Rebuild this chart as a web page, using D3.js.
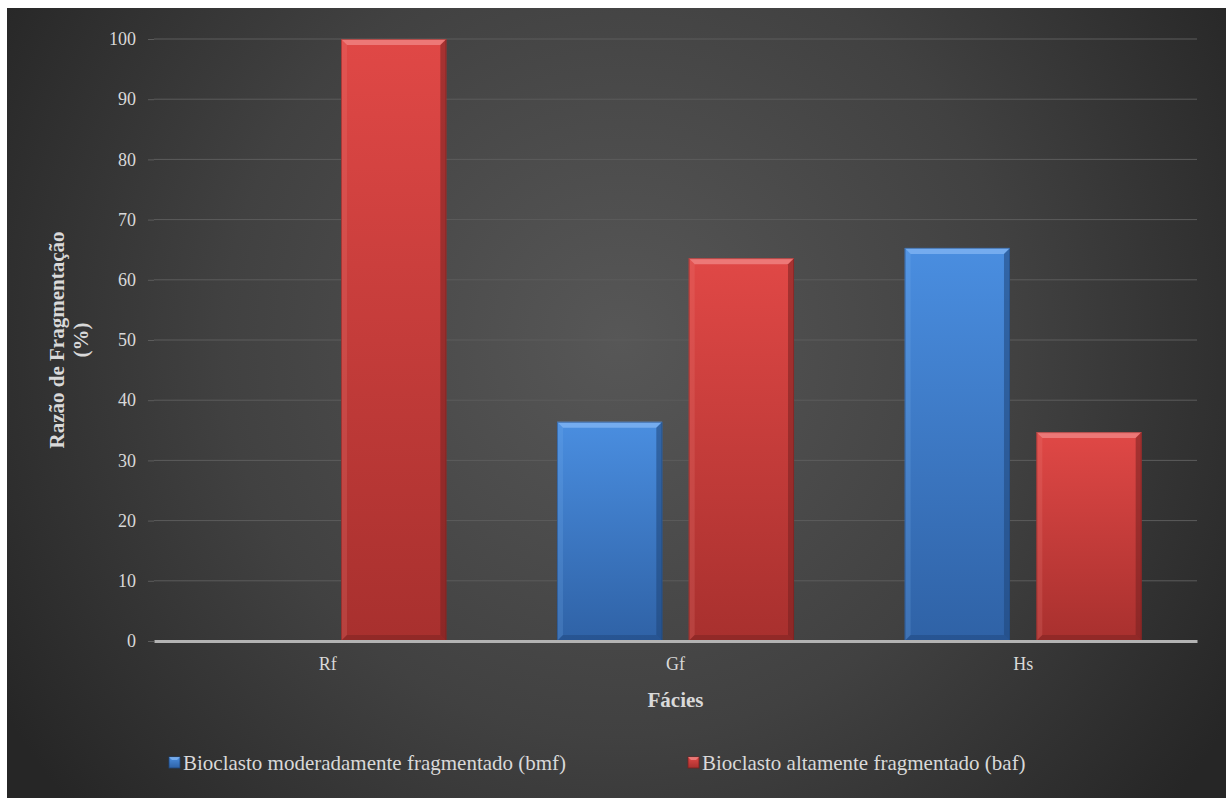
<!DOCTYPE html>
<html>
<head>
<meta charset="utf-8">
<script src="https://cdn.jsdelivr.net/npm/d3@7"></script>
<style>
  html, body { margin: 0; padding: 0; background: #ffffff; }
  svg { display: block; }
</style>
</head>
<body>
<svg id="chart" width="1227" height="798"></svg>
<script>
// Fragmentation ratio per facies
const categories = ["Rf", "Gf", "Hs"];
const seriesNames = [
  "Bioclasto moderadamente fragmentado (bmf)",
  "Bioclasto altamente fragmentado (baf)"
];
const bmfValues = [0, 36.4, 65.3];
const bafValues = [100, 63.6, 34.7];
const yTicks = [0, 10, 20, 30, 40, 50, 60, 70, 80, 90, 100];

const palettes = [
  { top: "#4a8ee0", bottom: "#2f62a6", light: "#7fb4f2", dark: "#1f4579" },
  { top: "#e04846", bottom: "#a8302e", light: "#f08583", dark: "#762120" }
];

const svg = d3.select("#chart");
const W = 1227, H = 798;
const margin = { left: 154, right: 30, top: 39, bottom: 157 };
const serif = "'Liberation Serif', 'Times New Roman', serif";

const defs = svg.append("defs");
const bg = defs.append("radialGradient").attr("id", "bgGrad")
  .attr("gradientUnits", "userSpaceOnUse")
  .attr("cx", 620).attr("cy", 340).attr("r", 720);
bg.append("stop").attr("offset", "0%").attr("stop-color", "#575757");
bg.append("stop").attr("offset", "55%").attr("stop-color", "#414141");
bg.append("stop").attr("offset", "100%").attr("stop-color", "#262626");

palettes.forEach((p, i) => {
  const g = defs.append("linearGradient").attr("id", "barGrad" + i)
    .attr("x1", 0).attr("y1", 0).attr("x2", 0).attr("y2", 1);
  g.append("stop").attr("offset", "0%").attr("stop-color", p.top);
  g.append("stop").attr("offset", "100%").attr("stop-color", p.bottom);
});

// chart background
svg.append("rect").attr("x", 7).attr("y", 8).attr("width", W - 8).attr("height", H - 8)
  .attr("fill", "url(#bgGrad)");

const x0 = d3.scaleBand().domain(categories)
  .range([margin.left, W - margin.right]).paddingInner(0).paddingOuter(0);
const x1 = d3.scaleBand().domain([0, 1]).range([0, x0.bandwidth()])
  .paddingInner(0.2).paddingOuter(0.42);
const y = d3.scaleLinear().domain([0, 100]).range([H - margin.bottom, margin.top]);

// gridlines
svg.append("g").selectAll("line").data(yTicks.filter(t => t > 0)).join("line")
  .attr("x1", margin.left).attr("x2", W - margin.right)
  .attr("y1", d => y(d)).attr("y2", d => y(d))
  .attr("stroke", "#5c5c5c").attr("stroke-width", 1);

// y axis
const yAxis = svg.append("g").attr("transform", `translate(${margin.left},0)`)
  .call(d3.axisLeft(y).tickValues(yTicks).tickSize(6).tickPadding(12));
yAxis.select(".domain").remove();
yAxis.selectAll(".tick line").attr("stroke", "#5c5c5c");
yAxis.selectAll(".tick text").attr("fill", "#d9d9d9")
  .style("font-family", serif).style("font-size", "18px");

// bars with bevelled edges
const data = [];
categories.forEach((c, ci) => {
  [bmfValues[ci], bafValues[ci]].forEach((v, si) => data.push({ c, si, v }));
});
const bev = 6;
const barG = svg.append("g");
data.filter(d => d.v > 0).forEach(d => {
  const bx = x0(d.c) + x1(d.si), bw = x1.bandwidth();
  const by = y(d.v), bh = y(0) - y(d.v);
  const p = palettes[d.si];
  const g = barG.append("g");
  g.append("rect").attr("x", bx).attr("y", by).attr("width", bw).attr("height", bh)
    .attr("fill", `url(#barGrad${d.si})`);
  const pts = a => a.map(q => q.join(",")).join(" ");
  // top bevel
  g.append("polygon").attr("points", pts([[bx, by], [bx + bw, by], [bx + bw - bev, by + bev], [bx + bev, by + bev]]))
    .attr("fill", p.light).attr("opacity", 0.8);
  // left bevel
  g.append("polygon").attr("points", pts([[bx, by], [bx + bev, by + bev], [bx + bev, by + bh - bev], [bx, by + bh]]))
    .attr("fill", p.light).attr("opacity", 0.2);
  // right bevel
  g.append("polygon").attr("points", pts([[bx + bw, by], [bx + bw, by + bh], [bx + bw - bev, by + bh - bev], [bx + bw - bev, by + bev]]))
    .attr("fill", p.dark).attr("opacity", 0.55);
  // bottom bevel
  g.append("polygon").attr("points", pts([[bx, by + bh], [bx + bw, by + bh], [bx + bw - bev, by + bh - bev], [bx + bev, by + bh - bev]]))
    .attr("fill", p.dark).attr("opacity", 0.45);
  g.append("rect").attr("x", bx + 0.5).attr("y", by + 0.5).attr("width", bw - 1).attr("height", bh - 1)
    .attr("fill", "none").attr("stroke", p.dark).attr("stroke-opacity", 0.5);
});

// x axis
const xAxis = svg.append("g").attr("transform", `translate(0,${y(0)})`)
  .call(d3.axisBottom(x0).tickSize(0).tickPadding(16));
xAxis.select(".domain").attr("stroke", "#b3b3b3").attr("stroke-width", 3);
xAxis.selectAll(".tick text").attr("fill", "#d9d9d9")
  .style("font-family", serif).style("font-size", "18px");

// axis titles
svg.append("text").attr("x", (margin.left + W - margin.right) / 2).attr("y", 707)
  .attr("text-anchor", "middle").attr("fill", "#d9d9d9")
  .style("font-family", serif)
  .style("font-size", "21px").style("font-weight", "bold").text("Fácies");

const yt = svg.append("text").attr("transform", "translate(64,340) rotate(-90)")
  .attr("text-anchor", "middle").attr("fill", "#d9d9d9")
  .style("font-family", serif)
  .style("font-size", "21px").style("font-weight", "bold");
yt.append("tspan").attr("x", 0).attr("dy", 0).text("Razão de Fragmentação");
yt.append("tspan").attr("x", 0).attr("dy", 24).text("(%)");

// legend
const legendX = [169, 688];
const leg = svg.append("g");
seriesNames.forEach((name, i) => {
  const p = palettes[i];
  const lx = legendX[i], ly = 763;
  leg.append("rect").attr("x", lx).attr("y", ly - 6).attr("width", 11).attr("height", 11)
    .attr("fill", `url(#barGrad${i})`).attr("stroke", p.dark).attr("stroke-width", 0.8);
  leg.append("polygon").attr("points", `${lx},${ly - 6} ${lx + 11},${ly - 6} ${lx + 8},${ly - 3} ${lx + 3},${ly - 3}`)
    .attr("fill", p.light).attr("opacity", 0.8);
  leg.append("text").attr("x", lx + 14).attr("y", ly + 7).attr("fill", "#d9d9d9")
    .style("font-family", serif)
    .style("font-size", "21px").text(name);
});
</script>
</body>
</html>
